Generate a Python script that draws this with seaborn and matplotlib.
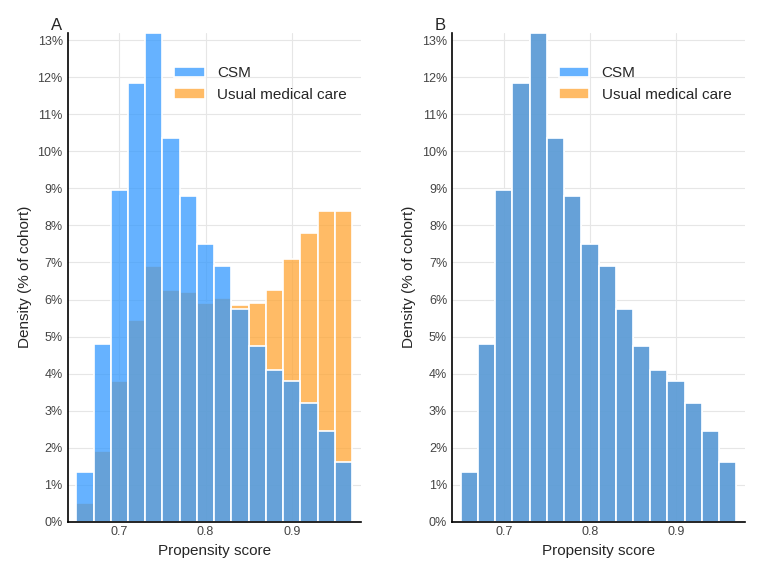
import numpy as np
import pandas as pd
import matplotlib.pyplot as plt
import seaborn as sns
from matplotlib.ticker import PercentFormatter

# bin edges 0.65 .. 0.97, width 0.02
bin_edges = [round(0.65 + 0.02 * i, 3) for i in range(17)]
bin_mids = [round(e + 0.01, 3) for e in bin_edges[:-1]]

# percent of cohort per bin
csm_a = [1.35, 4.8, 8.95, 11.85, 13.2, 10.35, 8.8, 7.5, 6.9, 5.75, 4.75, 4.1, 3.8, 3.2, 2.45, 1.6]
usual_a = [0.5, 1.9, 3.8, 5.45, 6.9, 6.25, 6.2, 5.9, 6.05, 5.85, 5.9, 6.25, 7.1, 7.8, 8.4, 8.4]
csm_b = csm_a
usual_b = csm_a

groups = ["CSM", "Usual medical care"]
colors = {"CSM": "#3399ff", "Usual medical care": "#ffa533"}

sns.set_theme(style="whitegrid")
plt.rcParams["font.family"] = ["Liberation Sans", "DejaVu Sans"]

fig, axes = plt.subplots(1, 2, figsize=(7.63, 5.76), dpi=100)

for ax, (csm, usual), letter in zip(axes, [(csm_a, usual_a), (csm_b, usual_b)], ["A", "B"]):
    df = pd.DataFrame({
        "score": bin_mids + bin_mids,
        "pct": csm + usual,
        "group": [groups[0]] * len(csm) + [groups[1]] * len(usual),
    })
    sns.histplot(data=df, x="score", weights="pct", hue="group", bins=bin_edges,
                 palette=colors, alpha=0.75, edgecolor="white", linewidth=1.2,
                 multiple="layer", ax=ax, hue_order=groups)
    ax.set_xlim(0.64, 0.98)
    ax.set_ylim(0, 13.2)
    ax.set_yticks(range(0, 14))
    ax.yaxis.set_major_formatter(PercentFormatter(decimals=0))
    ax.set_xticks([0.7, 0.8, 0.9])
    ax.set_xlabel("Propensity score", fontsize=11)
    ax.set_ylabel("Density (% of cohort)", fontsize=11)
    ax.tick_params(labelsize=9, colors="#444444", length=0)
    ax.grid(color="#e6e6e6", linewidth=0.8)
    for side in ["top", "right"]:
        ax.spines[side].set_visible(False)
    for side in ["left", "bottom"]:
        ax.spines[side].set_color("black")
        ax.spines[side].set_linewidth(1.2)
    sns.move_legend(ax, "upper right", bbox_to_anchor=(1.0, 0.96), title=None,
                    frameon=False, fontsize=11)
    ax.text(-0.02, 1.0, letter, transform=ax.transAxes, fontsize=12,
            ha="right", va="bottom")

plt.tight_layout(w_pad=2.5)
plt.savefig("out.png", dpi=100)
